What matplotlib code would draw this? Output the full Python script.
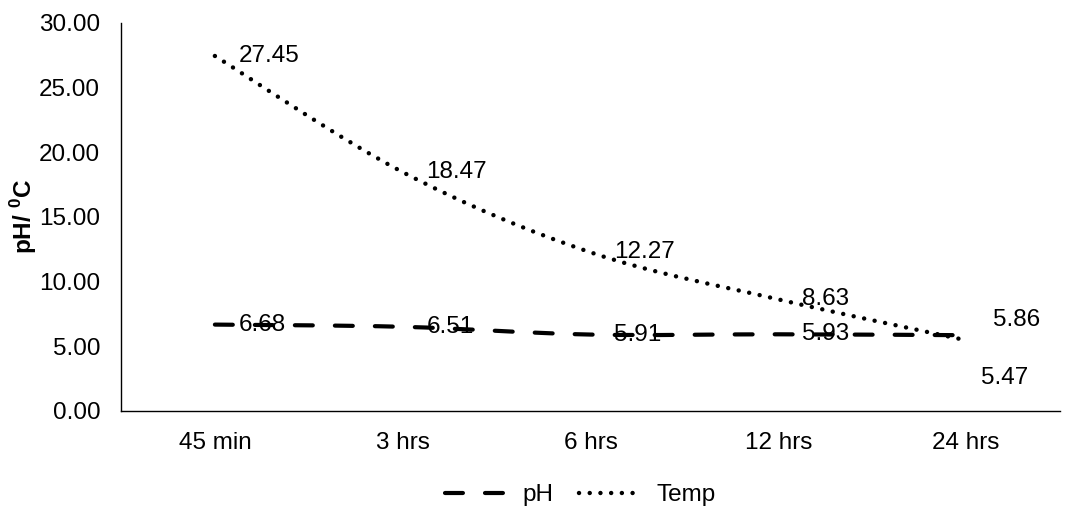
import numpy as np
import matplotlib
import matplotlib.pyplot as plt
from matplotlib.path import Path
from matplotlib.patches import PathPatch
from matplotlib.lines import Line2D

matplotlib.rcParams['font.family'] = ['Liberation Sans', 'DejaVu Sans']
matplotlib.rcParams['font.size'] = 17.5
matplotlib.rcParams['mathtext.fontset'] = 'custom'
matplotlib.rcParams['mathtext.rm'] = 'Liberation Sans'
matplotlib.rcParams['mathtext.bf'] = 'Liberation Sans:bold'

times = ['45 min', '3 hrs', '6 hrs', '12 hrs', '24 hrs']
ph = [6.68, 6.51, 5.91, 5.93, 5.86]
temp = [27.45, 18.47, 12.27, 8.63, 5.47]
yticks = [0, 5, 10, 15, 20, 25, 30]


def smooth_path(xs, ys):
    # excel style smoothed line: bezier segments through every point
    pts = np.column_stack([xs, ys]).astype(float)
    n = len(pts)
    verts = [pts[0]]
    codes = [Path.MOVETO]
    for i in range(n - 1):
        p0 = pts[max(i - 1, 0)]
        p1 = pts[i]
        p2 = pts[i + 1]
        p3 = pts[min(i + 2, n - 1)]
        verts += [p1 + (p2 - p0) / 6, p2 - (p3 - p1) / 6, p2]
        codes += [Path.CURVE4] * 3
    return Path(verts, codes)


x = np.arange(len(times))

fig = plt.figure(figsize=(10.65, 5.11), dpi=100)
ax = fig.add_axes([0.1136, 0.1957, 0.8817, 0.7593])

ph_dash = (0, (4.3, 5.3))
temp_dash = (0, (0.01, 2.4))

ax.add_patch(PathPatch(smooth_path(x, ph), fill=False, color='black', lw=3,
                       linestyle=ph_dash, capstyle='round'))
ax.add_patch(PathPatch(smooth_path(x, temp), fill=False, color='black', lw=3.2,
                       linestyle=temp_dash, capstyle='round'))

# data labels to the right of the points, last two moved apart
for i in range(len(times)):
    dx, dy = 17, 0
    if i == len(times) - 1:
        dx, dy = 19.5, 11
    ax.annotate('%.2f' % ph[i], (x[i], ph[i]), xytext=(dx, dy), textcoords='offset points',
                ha='left', va='center')
    dx, dy = 17, 0
    if i == len(times) - 1:
        dx, dy = 11, -27
    ax.annotate('%.2f' % temp[i], (x[i], temp[i]), xytext=(dx, dy), textcoords='offset points',
                ha='left', va='center')

ax.set_xlim(-0.5, len(times) - 0.5)
ax.set_ylim(0, 30)
ax.set_xticks(x)
ax.set_xticklabels(times)
ax.set_yticks(yticks)
ax.set_yticklabels(['%.2f' % v for v in yticks])
ax.tick_params(axis='both', length=0)
ax.tick_params(axis='y', pad=15)
ax.tick_params(axis='x', pad=15)

ax.spines['top'].set_visible(False)
ax.spines['right'].set_visible(False)
ax.spines['left'].set_linewidth(1)
ax.spines['bottom'].set_linewidth(1)

ax.set_ylabel(r'pH/ $^{\mathbf{0}}$C', fontweight='bold')
ax.yaxis.set_label_coords(-0.087, 0.5)

handles = [Line2D([], [], dash_capstyle='round', color='black', lw=3, linestyle=ph_dash),
           Line2D([], [], dash_capstyle='round', color='black', lw=3.2, linestyle=temp_dash)]
fig.legend(handles, ['pH', 'Temp'], loc='center', bbox_to_anchor=(0.545, 0.031), ncol=2,
           frameon=False, handlelength=2.6, handletextpad=0.57, columnspacing=1.07)

plt.savefig('out.png', dpi=100)
